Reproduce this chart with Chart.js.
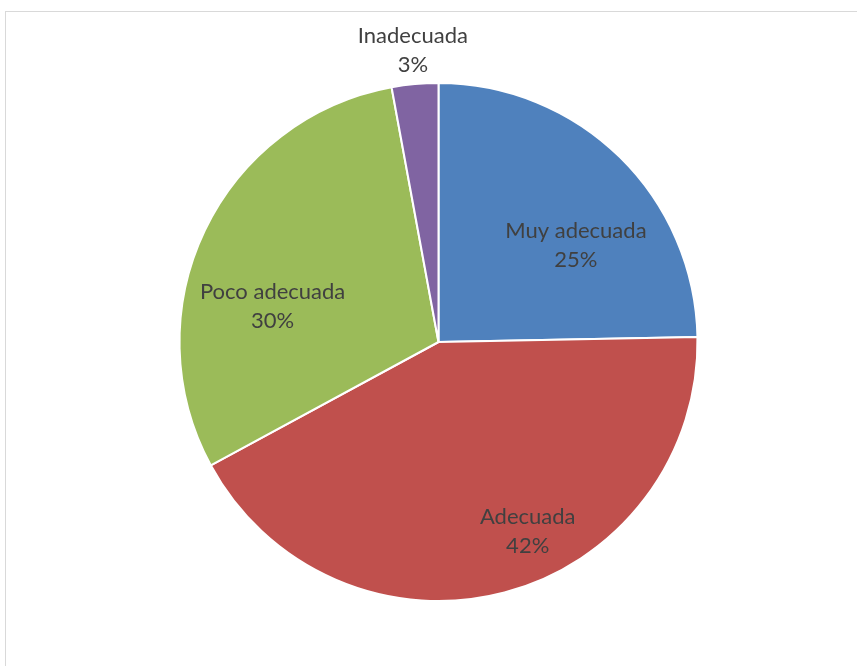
<!DOCTYPE html>
<html>
<head>
<meta charset="utf-8">
<script src="https://cdn.jsdelivr.net/npm/chart.js@4/dist/chart.umd.min.js"></script>
<style>
    html, body { margin: 0; padding: 0; background: #fff; overflow: hidden; }
    #frame {
        position: absolute; left: 5px; top: 11px;
        width: 900px; height: 700px;
        border: 1px solid #d9d9d9;
    }
    #chart { position: absolute; left: 0; top: 0; }
</style>
</head>
<body>
<div id="frame"></div>
<canvas id="chart" width="857" height="666"></canvas>
<script>
// Shares (labels show the rounded values)
const categories = ['Muy adecuada', 'Adecuada', 'Poco adecuada', 'Inadecuada'];
const shares = [24.7, 42.4, 30.0, 2.9];
const percentLabels = ['25%', '42%', '30%', '3%'];
const sliceColors = ['#4F81BD', '#C0504D', '#9BBB59', '#8064A2'];

// Where each label sits: fraction of radius, and angle shift from the slice middle (deg)
const labelPlacement = [
    { r: 0.648, shift: 10.5 },
    { r: 0.81, shift: -10.4 },
    { r: 0.655, shift: -13.5 },
    { r: 1.13, shift: 0.2 }
];

const sliceLabels = {
    id: 'sliceLabels',
    afterDatasetsDraw(chart) {
        const ctx = chart.ctx;
        const arcs = chart.getDatasetMeta(0).data;
        ctx.save();
        ctx.font = '22px Lato';
        ctx.fillStyle = '#404040';
        ctx.textAlign = 'center';
        ctx.textBaseline = 'middle';
        arcs.forEach(function(arc, i) {
            const p = arc.getProps(['x', 'y', 'startAngle', 'endAngle', 'outerRadius'], true);
            const place = labelPlacement[i];
            const mid = (p.startAngle + p.endAngle) / 2 + place.shift * Math.PI / 180;
            const lx = p.x + Math.cos(mid) * p.outerRadius * place.r;
            const ly = p.y + Math.sin(mid) * p.outerRadius * place.r;
            ctx.fillText(categories[i], lx, ly - 14.5);
            ctx.fillText(percentLabels[i], lx, ly + 14.5);
        });
        ctx.restore();
    }
};

new Chart(document.getElementById('chart'), {
    type: 'pie',
    data: {
        labels: categories,
        datasets: [{
            data: shares,
            backgroundColor: sliceColors,
            borderColor: '#ffffff',
            borderWidth: 2
        }]
    },
    options: {
        responsive: false,
        animation: false,
        layout: { padding: { top: 82, bottom: 64, left: 20, right: 0 } },
        plugins: {
            legend: { display: false },
            tooltip: { enabled: false }
        }
    },
    plugins: [sliceLabels]
});
</script>
</body>
</html>
